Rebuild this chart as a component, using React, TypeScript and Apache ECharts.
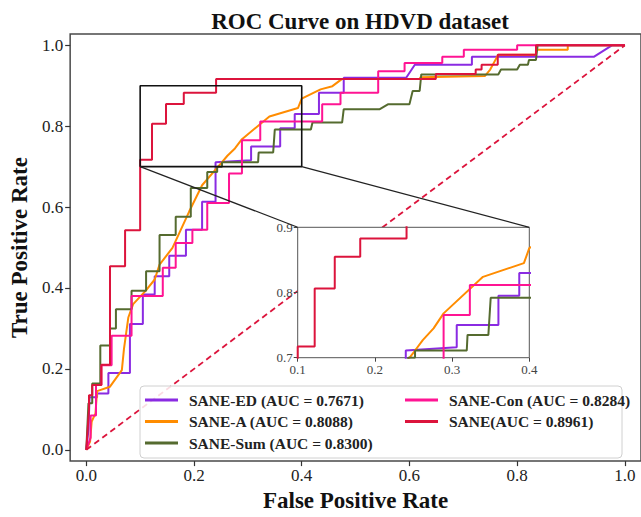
import React, { useEffect, useRef } from 'react';
import * as echarts from 'echarts';

const FONT = "'Liberation Serif', 'Times New Roman', serif";

const mainTicks = [0, 0.2, 0.4, 0.6, 0.8, 1.0];
const seriesNames = [
  'SANE-ED (AUC = 0.7671)',
  'SANE-A (AUC = 0.8088)',
  'SANE-Sum (AUC = 0.8300)',
  'SANE-Con (AUC = 0.8284)',
  'SANE(AUC = 0.8961)',
];
const seriesColors = ['#8a2be2', '#ff8c00', '#556b2f', '#ff1493', '#dc143c'];

const edRoc = [
  [0, 0], [0.004, 0.05], [0.006, 0.13], [0.02, 0.13], [0.02, 0.139], [0.041, 0.139], [0.041, 0.19],
  [0.081, 0.19], [0.081, 0.311], [0.105, 0.311], [0.105, 0.384], [0.127, 0.384], [0.127, 0.429],
  [0.154, 0.429], [0.154, 0.48], [0.185, 0.48], [0.185, 0.544], [0.215, 0.544], [0.215, 0.613],
  [0.24, 0.613], [0.24, 0.711], [0.306, 0.716], [0.306, 0.75], [0.36, 0.75], [0.36, 0.795],
  [0.387, 0.795], [0.387, 0.83], [0.432, 0.83], [0.432, 0.883], [0.478, 0.883], [0.478, 0.92],
  [0.594, 0.92], [0.61, 0.952], [0.716, 0.952], [0.716, 0.972], [0.943, 0.972], [0.976, 1.0], [1, 1],
];
const aRoc = [
  [0, 0], [0.007, 0.02], [0.01, 0.07], [0.017, 0.09], [0.02, 0.145], [0.044, 0.156], [0.066, 0.197],
  [0.07, 0.25], [0.078, 0.327], [0.087, 0.36], [0.11, 0.393], [0.127, 0.421], [0.136, 0.458],
  [0.16, 0.499], [0.191, 0.589], [0.215, 0.654], [0.252, 0.711], [0.262, 0.727], [0.276, 0.745],
  [0.289, 0.768], [0.34, 0.824], [0.393, 0.845], [0.4, 0.868], [0.435, 0.891], [0.457, 0.899],
  [0.475, 0.917], [0.62, 0.917], [0.62, 0.921], [0.74, 0.924], [0.75, 0.94], [0.765, 0.977],
  [0.835, 0.977], [0.835, 0.989], [0.894, 0.989], [0.894, 1.0], [1, 1],
];
const sumRoc = [
  [0, 0], [0.004, 0.115], [0.011, 0.115], [0.011, 0.164], [0.026, 0.164], [0.026, 0.258], [0.044, 0.258],
  [0.044, 0.3], [0.055, 0.3], [0.055, 0.3475], [0.084, 0.3475], [0.084, 0.393], [0.111, 0.393],
  [0.111, 0.4417], [0.136, 0.4417], [0.136, 0.531], [0.166, 0.531], [0.166, 0.576], [0.194, 0.576],
  [0.194, 0.6475], [0.2246, 0.6475], [0.2246, 0.687], [0.243, 0.687], [0.243, 0.7], [0.252, 0.7],
  [0.252, 0.711], [0.319, 0.711], [0.32, 0.735], [0.347, 0.735], [0.35, 0.792], [0.417, 0.792],
  [0.42, 0.809], [0.475, 0.809], [0.478, 0.842], [0.545, 0.842], [0.56, 0.854], [0.6, 0.854],
  [0.606, 0.887], [0.619, 0.887], [0.622, 0.928], [0.765, 0.928], [0.77, 0.94], [0.8, 0.94],
  [0.805, 0.952], [0.82, 0.952], [0.822, 0.964], [0.835, 0.964], [0.838, 1.0], [1, 1],
];
const conRoc = [
  [0, 0], [0.008, 0.03], [0.008, 0.085], [0.018, 0.085], [0.018, 0.16], [0.028, 0.16], [0.028, 0.209],
  [0.047, 0.209], [0.047, 0.282], [0.084, 0.282], [0.084, 0.38], [0.142, 0.38], [0.142, 0.45],
  [0.166, 0.45], [0.166, 0.511], [0.197, 0.511], [0.197, 0.544], [0.2246, 0.544], [0.2246, 0.61],
  [0.265, 0.61], [0.265, 0.683], [0.289, 0.683], [0.289, 0.7655], [0.323, 0.7655], [0.323, 0.8115],
  [0.438, 0.8115], [0.438, 0.854], [0.472, 0.854], [0.472, 0.883], [0.542, 0.883], [0.542, 0.936],
  [0.591, 0.936], [0.591, 0.956], [0.661, 0.956], [0.661, 0.972], [0.701, 0.972], [0.701, 0.989],
  [0.8, 0.989], [0.8, 1.0], [1, 1],
];
const saneRoc = [
  [0, 0], [0.005, 0.1], [0.005, 0.135], [0.011, 0.135], [0.011, 0.16], [0.028, 0.16], [0.028, 0.21],
  [0.044, 0.21], [0.044, 0.454], [0.072, 0.454], [0.072, 0.543], [0.1, 0.543], [0.1, 0.717],
  [0.122, 0.717], [0.122, 0.806], [0.148, 0.806], [0.148, 0.855], [0.181, 0.855], [0.181, 0.883],
  [0.241, 0.883], [0.241, 0.917], [0.649, 0.917], [0.649, 0.929], [0.723, 0.929], [0.723, 0.94],
  [0.734, 0.94], [0.734, 0.952], [0.764, 0.952], [0.764, 0.977], [0.835, 0.977], [0.835, 1.0], [1, 1],
];
const chanceLine = [[0, 0], [1, 1]];
const zoomX = [0.1, 0.4];
const zoomY = [0.7, 0.9];

const curves = [edRoc, aRoc, sumRoc, conRoc, saneRoc];

export default function App() {
  const ref = useRef<HTMLDivElement>(null);
  useEffect(() => {
    if (!ref.current) return;
    const chart = echarts.init(ref.current, null, { renderer: 'svg' });
    const tickLabel = (size: number, color: string) => ({
      fontFamily: FONT, fontSize: size, color,
    });
    const zoomRect = [
      [zoomX[0], zoomY[0]], [zoomX[1], zoomY[0]], [zoomX[1], zoomY[1]],
      [zoomX[0], zoomY[1]], [zoomX[0], zoomY[0]],
    ];
    const mainSeries = curves.map((d, i) => ({
      type: 'line', name: seriesNames[i], data: d, xAxisIndex: 0, yAxisIndex: 0,
      showSymbol: false, color: seriesColors[i], lineStyle: { width: 2, color: seriesColors[i] }, z: 2,
    }));
    const insetSeries = curves.map((d, i) => ({
      type: 'line', name: seriesNames[i], data: d, xAxisIndex: 1, yAxisIndex: 1,
      showSymbol: false, color: seriesColors[i], lineStyle: { width: 2, color: seriesColors[i] }, z: 5,
    }));
    const legendCommon = {
      orient: 'vertical', itemWidth: 33, itemHeight: 3, icon: 'rect', itemGap: 3.5, padding: 0, z: 7,
      textStyle: { fontFamily: FONT, fontWeight: 'bold', fontSize: 15.5, color: '#222', lineHeight: 18, padding: [0, 0, 0, 6] },
    };
    const option: any = {
      animation: false,
      backgroundColor: '#fff',
      title: {
        text: 'ROC Curve on HDVD dataset', left: 355, top: 5, textAlign: 'center',
        textStyle: { fontFamily: FONT, fontWeight: 'bold', fontSize: 23, color: '#111' },
      },
      legend: [
        { ...legendCommon, data: seriesNames.slice(0, 3), left: 145, top: 391 },
        { ...legendCommon, data: seriesNames.slice(3), left: 405, top: 391 },
      ],
      grid: [
        { left: 66.5, top: 34, right: -3, bottom: 52, show: true, borderColor: '#4a4a4a', borderWidth: 1.5, backgroundColor: 'transparent', z: 0 },
        { left: 297.7, top: 227.3, width: 231.6, height: 130.4, show: true, backgroundColor: '#fff', borderColor: '#555', borderWidth: 1, z: 3 },
      ],
      xAxis: [
        {
          type: 'value', gridIndex: 0, min: -0.03, max: 1.03,
          name: 'False Positive Rate', nameLocation: 'middle', nameGap: 22,
          nameTextStyle: { fontFamily: FONT, fontWeight: 'bold', fontSize: 23, color: '#111' },
          axisLine: { show: false, onZero: false }, splitLine: { show: false },
          axisTick: { show: true, length: 5, customValues: mainTicks, lineStyle: { color: '#333', width: 1.2 } },
          axisLabel: { ...tickLabel(17, '#222'), customValues: mainTicks, margin: 6, formatter: (v: number) => v.toFixed(1) },
        },
        {
          type: 'value', gridIndex: 1, min: 0.1, max: 0.4, interval: 0.1, z: 4,
          axisLine: { show: false, onZero: false }, splitLine: { show: false },
          axisTick: { show: true, length: 4, lineStyle: { color: '#444' } },
          axisLabel: { ...tickLabel(13, '#444'), margin: 5, formatter: (v: number) => v.toFixed(1) },
        },
      ],
      yAxis: [
        {
          type: 'value', gridIndex: 0, min: -0.028, max: 1.028,
          name: 'True Positive Rate', nameLocation: 'middle', nameGap: 36, nameRotate: 90,
          nameTextStyle: { fontFamily: FONT, fontWeight: 'bold', fontSize: 23, color: '#111' },
          axisLine: { show: false, onZero: false }, splitLine: { show: false },
          axisTick: { show: true, length: 5, customValues: mainTicks, lineStyle: { color: '#333', width: 1.2 } },
          axisLabel: { ...tickLabel(17, '#222'), customValues: mainTicks, margin: 7, formatter: (v: number) => v.toFixed(1) },
        },
        {
          type: 'value', gridIndex: 1, min: 0.7, max: 0.9, interval: 0.1, z: 4,
          axisLine: { show: false, onZero: false }, splitLine: { show: false },
          axisTick: { show: true, length: 4, lineStyle: { color: '#444' } },
          axisLabel: { ...tickLabel(13, '#444'), margin: 5, formatter: (v: number) => v.toFixed(1) },
        },
      ],
      series: [
        ...mainSeries,
        {
          type: 'line', name: 'chance', data: chanceLine, xAxisIndex: 0, yAxisIndex: 0, showSymbol: false,
          lineStyle: { color: '#dc143c', width: 1.8, type: [6, 4] }, z: 2,
        },
        {
          type: 'line', name: 'zoom', data: zoomRect, xAxisIndex: 0, yAxisIndex: 0, showSymbol: false,
          lineStyle: { color: '#111', width: 1.6 }, z: 2,
        },
        ...insetSeries,
      ],
    };
    chart.setOption(option);
    const a0 = chart.convertToPixel({ gridIndex: 0 }, [zoomX[0], zoomY[0]]) as number[];
    const a1 = chart.convertToPixel({ gridIndex: 0 }, [zoomX[1], zoomY[0]]) as number[];
    const b0 = chart.convertToPixel({ gridIndex: 1 }, [zoomX[0], zoomY[1]]) as number[];
    const b1 = chart.convertToPixel({ gridIndex: 1 }, [zoomX[1], zoomY[1]]) as number[];
    chart.setOption({
      graphic: [
        {
          type: 'rect', shape: { x: 140, y: 386, width: 482, height: 72, r: 4 },
          style: { fill: 'rgba(255,255,255,0.85)', stroke: '#d0d0d0', lineWidth: 1 }, z: 6,
        },
        { type: 'line', shape: { x1: a0[0], y1: a0[1], x2: b0[0], y2: b0[1] }, style: { stroke: '#222', lineWidth: 1.2 }, z: 6 },
        { type: 'line', shape: { x1: a1[0], y1: a1[1], x2: b1[0], y2: b1[1] }, style: { stroke: '#222', lineWidth: 1.2 }, z: 6 },
      ],
    });
    return () => chart.dispose();
  }, []);
  return <div ref={ref} style={{ position: 'fixed', left: 0, top: 0, width: 641, height: 517 }} />;
}
